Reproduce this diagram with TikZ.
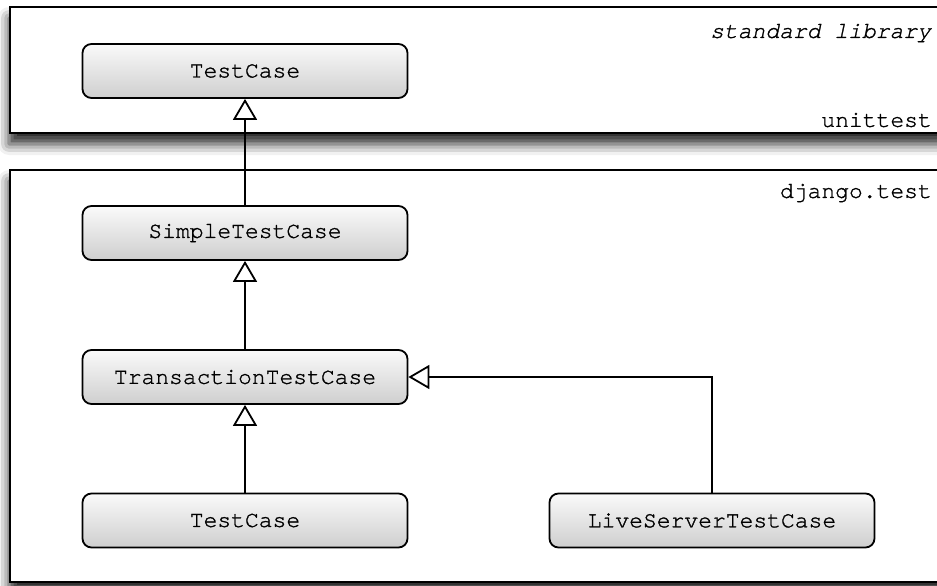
\documentclass[tikz,border=0pt]{standalone}
\usepackage{fontspec}
\setmonofont[FakeBold=1.2]{TeX Gyre Cursor}
\usetikzlibrary{arrows.meta, shadows.blur}

\begin{document}
\begin{tikzpicture}[x=1pt, y=-1pt,
    cls/.style = {draw, line width=1.8pt, rounded corners=9pt, minimum width=325pt, minimum height=54pt, top color=gray!4, bottom color=gray!38, font=\fontsize{23}{27}\selectfont\ttfamily},
    pkg/.style = {draw, line width=2.2pt, fill=white, blur shadow={shadow xshift=-1pt, shadow yshift=-11pt, shadow blur radius=11pt, shadow opacity=85}},
    lbl/.style = {anchor=east, inner sep=0pt, font=\fontsize{23}{27}\selectfont\ttfamily},
    isa/.style = {line width=1.8pt, -{Triangle[open, length=21pt, width=24pt]}}]
	\useasboundingbox (0,0) rectangle (937,586);
	% packages
	\draw[pkg] (10,7) rectangle (950,133);
	\draw[pkg] (10,170) rectangle (950,582);
	\node[lbl] (stdlib) at (932,33) {\textit{standard library}};
	\node[lbl] (unittest) at (932,120) {unittest};
	\node[lbl] (djtest) at (932,193) {django.test};
	% classes
	\node[cls] (base) at (245,71) {TestCase};
	\node[cls] (simple) at (245,233) {SimpleTestCase};
	\node[cls] (trans) at (245,377) {TransactionTestCase};
	\node[cls] (test) at (245,520.5) {TestCase};
	\node[cls] (live) at (712,520.5) {LiveServerTestCase};
	\draw[isa] (simple) -- (base);
	\draw[isa] (trans) -- (simple);
	\draw[isa] (test) -- (trans);
	\draw[isa] (live.north) |- (trans.east);
\end{tikzpicture}
\end{document}
